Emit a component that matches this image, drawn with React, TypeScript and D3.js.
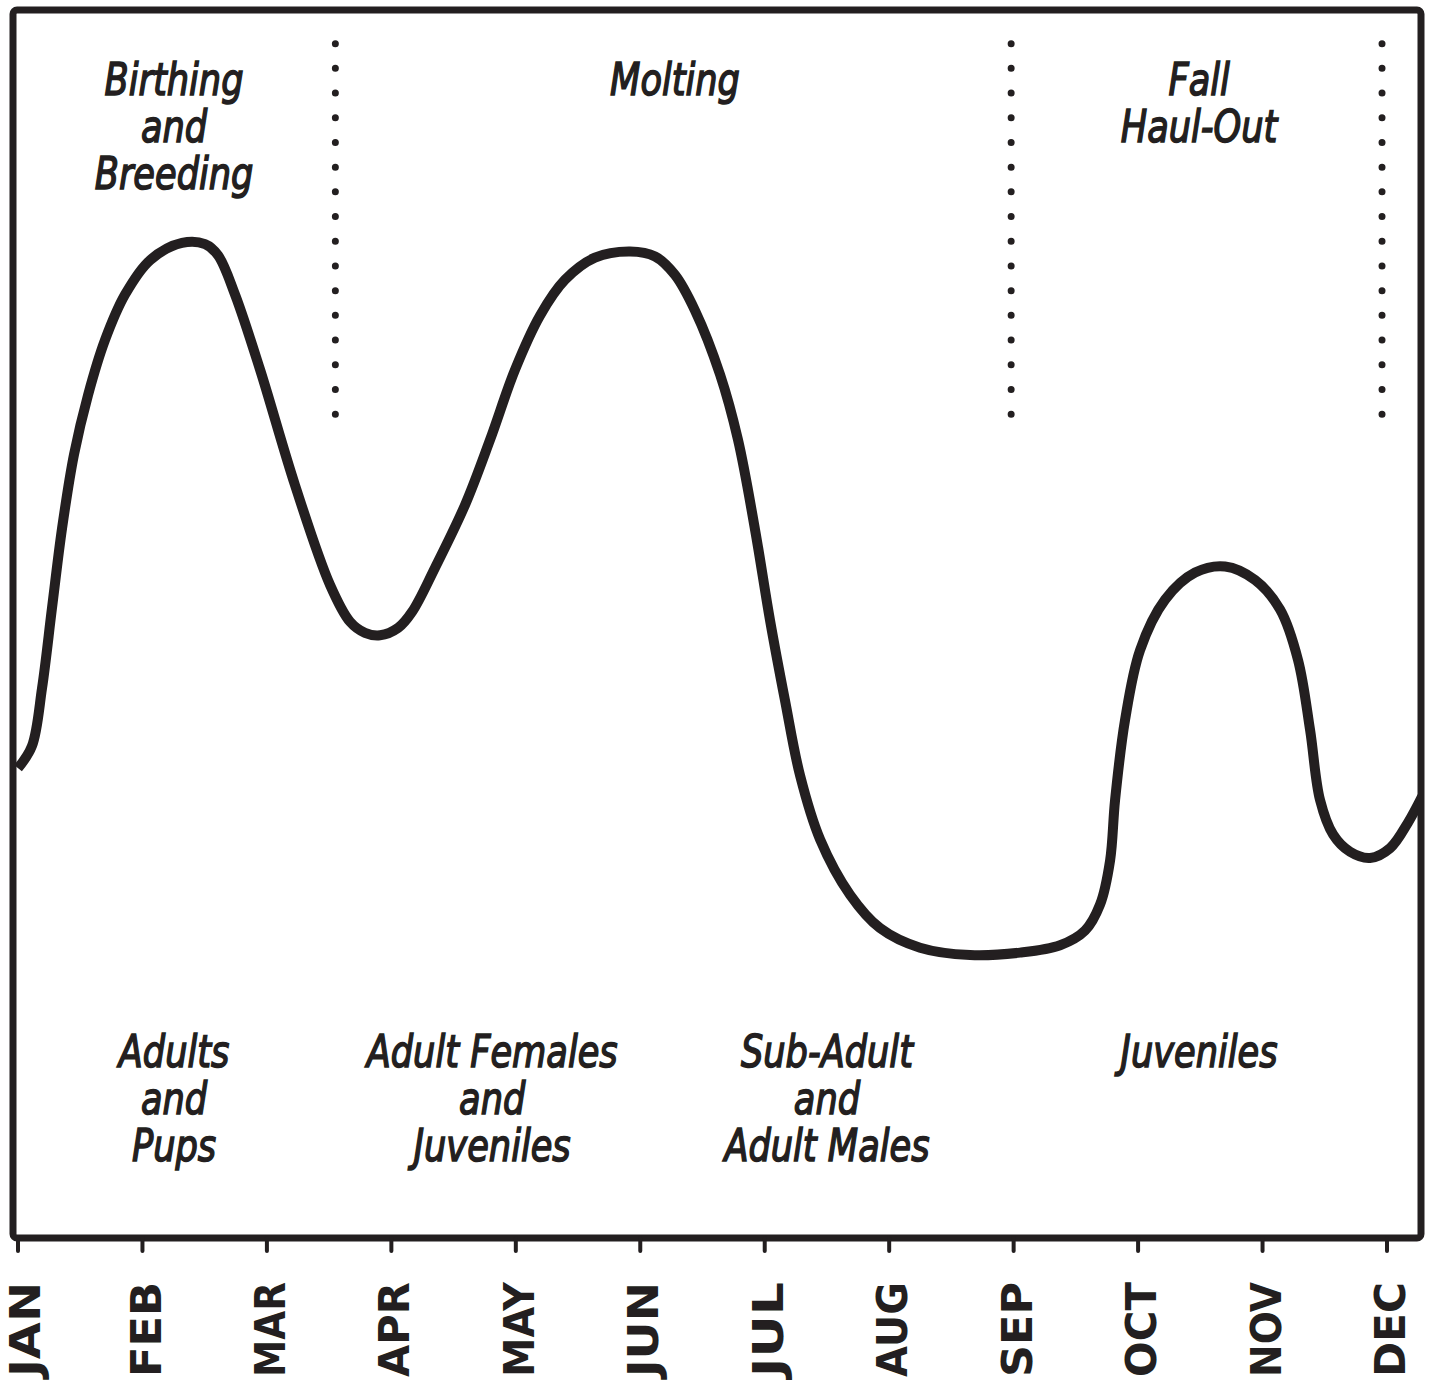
import * as d3 from 'd3';
import React from 'react';

// month index (0 = JAN) and relative number of seals hauled out (0-100)
const months = ['JAN', 'FEB', 'MAR', 'APR', 'MAY', 'JUN', 'JUL', 'AUG', 'SEP', 'OCT', 'NOV', 'DEC'];

const monthPos = [
  0.0, 0.112, 0.193, 0.273, 0.354, 0.45, 0.562, 0.699, 0.86, 1.061, 1.318, 1.503, 1.607, 1.744, 1.945,
  2.226, 2.507, 2.668, 2.788, 2.909, 3.054, 3.166, 3.351, 3.592, 3.793, 3.994, 4.195, 4.395,
  4.636, 4.918, 5.119, 5.279, 5.44, 5.641, 5.785, 5.922, 6.043, 6.163, 6.284, 6.445, 6.686,
  6.926, 7.248, 7.65, 8.051, 8.373, 8.574, 8.694, 8.775, 8.815, 8.895, 9.016, 9.217, 9.458,
  9.699, 9.94, 10.141, 10.285, 10.382, 10.462, 10.567, 10.703, 10.864, 11.025, 11.17, 11.282,
];

const sealCount = [
  38.2, 40.0, 44.7, 51.2, 57.7, 63.7, 68.5, 73.0, 76.7, 79.5, 80.9, 80.8, 79.9, 76.7, 70.6,
  61.2, 53.1, 50.1, 49.2, 49.0, 49.6, 50.9, 54.5, 59.6, 64.9, 70.6, 75.0, 77.9,
  79.7, 80.2, 79.8, 78.3, 75.4, 70.2, 64.9, 57.6, 50.2, 43.7, 37.6, 32.4, 27.9,
  25.2, 23.6, 23.0, 23.2, 23.8, 25.0, 27.1, 30.7, 35.6, 42.1, 47.8, 51.9, 54.1,
  54.6, 53.5, 51.1, 47.0, 41.3, 35.6, 32.8, 31.4, 30.9, 31.7, 33.8, 35.9,
];

// season boundaries (dotted lines), in months
const seasonBreaks = [2.55, 7.98, 10.96];

const seasonLabels = [
  { lines: ['Birthing', 'and', 'Breeding'], month: 1.254 },
  { lines: ['Molting'], month: 5.279 },
  { lines: ['Fall', 'Haul-Out'], month: 9.49 },
];

const groupLabels = [
  { lines: ['Adults', 'and', 'Pups'], month: 1.254 },
  { lines: ['Adult Females', 'and', 'Juveniles'], month: 3.81 },
  { lines: ['Sub-Adult', 'and', 'Adult Males'], month: 6.5 },
  { lines: ['Juveniles'], month: 9.49 },
];

const W = 1437;
const H = 1384;
const frame = { left: 13, right: 1421, top: 10, bottom: 1238 };
const ink = '#231f20';
const handFont = "'DejaVu Sans', sans-serif";
const squeeze = 0.8;

export default function App() {
  const x = d3.scaleLinear().domain([0, 11]).range([18, 1387]);
  const y = d3.scaleLinear().domain([0, 100]).range([frame.bottom, 8]);

  const pts: [number, number][] = monthPos.map((m, i) => [m, sealCount[i]]);
  const line = d3
    .line<[number, number]>()
    .x((d) => x(d[0]))
    .y((d) => y(d[1]))
    .curve(d3.curveCatmullRom.alpha(0.5));

  const lineH = 47;

  const label = (s: { lines: string[]; month: number }, i: number, v: number) => (
    <g key={i} transform={`translate(${x(s.month)},${y(v)}) scale(${squeeze},1)`}>
      <text
        textAnchor="middle"
        fontFamily={handFont}
        fontStyle="italic"
        fontSize={44}
        fill={ink}
        stroke={ink}
        strokeWidth={1.6}
      >
        {s.lines.map((l, j) => (
          <tspan key={j} x={0} dy={j === 0 ? 0 : lineH}>
            {l}
          </tspan>
        ))}
      </text>
    </g>
  );

  return (
    <svg width={W} height={H} style={{ position: 'absolute', left: 0, top: 0, background: '#fff' }}>
      <defs>
        <clipPath id="plot">
          <rect x={frame.left} y={frame.top} width={frame.right - frame.left} height={frame.bottom - frame.top} />
        </clipPath>
      </defs>

      {seasonBreaks.map((m, i) => (
        <line
          key={i}
          x1={x(m)}
          x2={x(m)}
          y1={y(97.1)}
          y2={y(66.5)}
          stroke={ink}
          strokeWidth={7}
          strokeLinecap="round"
          strokeDasharray="0 24.7"
        />
      ))}

      <path d={line(pts) || ''} fill="none" stroke={ink} strokeWidth={10} strokeLinejoin="round" clipPath="url(#plot)" />

      <rect
        x={frame.left}
        y={frame.top}
        width={frame.right - frame.left}
        height={frame.bottom - frame.top}
        fill="none"
        stroke={ink}
        strokeWidth={7}
        rx={4}
      />

      {months.map((mo, i) => (
        <g key={mo}>
          <line
            x1={x(i)}
            x2={x(i)}
            y1={frame.bottom}
            y2={frame.bottom + 13}
            stroke={ink}
            strokeWidth={4}
            strokeLinecap="round"
          />
          <text
            transform={`translate(${x(i) + (i === 0 ? 7 : 3)},1282) rotate(-90)`}
            textAnchor="end"
            dy="0.36em"
            fontFamily="'DejaVu Sans', sans-serif"
            fontWeight="bold"
            fontSize={42}
            textLength={95}
            lengthAdjust="spacingAndGlyphs"
            fill={ink}
          >
            {mo}
          </text>
        </g>
      ))}

      {seasonLabels.map((s, i) => label(s, i, 92.9))}
      {groupLabels.map((s, i) => label(s, i, 13.9))}
    </svg>
  );
}
